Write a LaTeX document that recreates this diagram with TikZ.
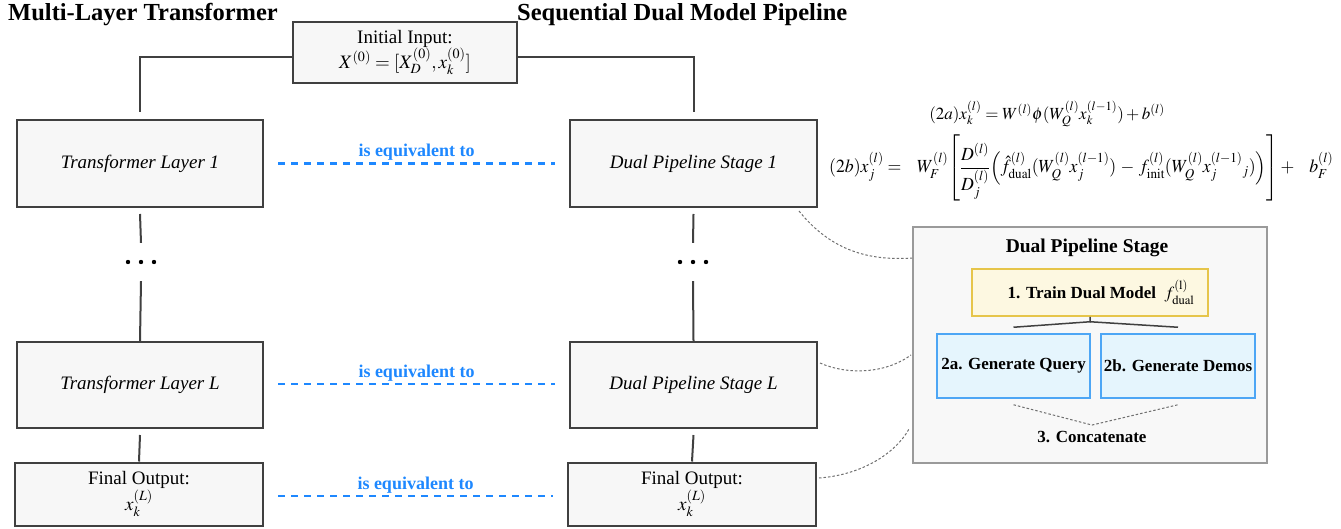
\documentclass[tikz,border=0pt]{standalone}
\usepackage{amsmath}
\usepackage{mathptmx}
\usepackage{fontspec}
\setmainfont{Liberation Serif}
\usetikzlibrary{calc}
\definecolor{boxfill}{HTML}{F7F7F7}
\definecolor{boxline}{HTML}{404040}
\definecolor{eqblue}{RGB}{30,136,255}
\definecolor{panelfill}{HTML}{F8F8F8}
\definecolor{panelline}{HTML}{9A9A9A}
\definecolor{yfill}{HTML}{FDF8E1}
\definecolor{yline}{HTML}{E6C54A}
\definecolor{bfill}{HTML}{E5F5FD}
\definecolor{bline}{HTML}{4DA6F5}
\definecolor{dotgray}{HTML}{707070}
\begin{document}
\begin{tikzpicture}[x=1pt,y=-1pt,
  mainbox/.style={draw=boxline, fill=boxfill, line width=2pt, inner sep=0pt, align=center},
  itext/.style={font=\fontsize{19}{22}\selectfont\itshape},
  rtext/.style={font=\fontsize{19}{24}\selectfont},
  conn/.style={draw=boxline, line width=2pt},
  eqline/.style={draw=eqblue, line width=2.2pt, dash pattern=on 7pt off 6pt},
  eqlabel/.style={text=eqblue, font=\fontsize{18}{20}\selectfont\bfseries, inner sep=0pt},
  title/.style={font=\fontsize{24.5}{28}\selectfont\bfseries, inner sep=0pt, anchor=west},
  softline/.style={draw=dotgray, line width=1pt, dash pattern=on 2.5pt off 2pt},
  panel/.style={draw=panelline, fill=panelfill, line width=2pt, inner sep=0pt},
  ptext/.style={font=\fontsize{17}{20}\selectfont\bfseries, inner sep=0pt},
  ptitle/.style={font=\fontsize{19.5}{22}\selectfont\bfseries, inner sep=0pt},
  ybox/.style={draw=yline, fill=yfill, line width=1.5pt, inner sep=0pt},
  bbox/.style={draw=bline, fill=bfill, line width=1.5pt, inner sep=0pt},
  treeline/.style={draw=boxline, line width=1.5pt},
  eqtext/.style={font=\fontsize{17}{20}\selectfont, inner sep=0pt},
  eqtextb/.style={font=\fontsize{18.5}{22}\selectfont, inner sep=0pt}
]
\useasboundingbox (0,0) rectangle (1341,529);

% titles
\node[title] (t1) at (8,15) {Multi-Layer Transformer};
\node[title] (t2) at (517,15) {Sequential Dual Model Pipeline};

% initial input
\node[mainbox, rtext, minimum width=224pt, minimum height=61pt] (init) at (405,52.5)
  {Initial Input:\\[-1pt] $X^{(0)}=[X_D^{(0)},x_k^{(0)}]$};

% left column
\node[mainbox, itext, minimum width=246pt, minimum height=87pt] (T1) at (140,163.5) {Transformer Layer 1};
\node[minimum width=40pt, minimum height=38pt, inner sep=0pt] (dL) at (141,262) {};
\node[mainbox, itext, minimum width=246pt, minimum height=86pt] (TL) at (140,385) {Transformer Layer L};
\node[mainbox, rtext, minimum width=248pt, minimum height=63pt] (FL) at (139,494)
  {Final Output:\\ $x_k^{(L)}$};

% right column
\node[mainbox, itext, minimum width=247pt, minimum height=87pt] (D1) at (693.5,163.5) {Dual Pipeline Stage 1};
\node[minimum width=40pt, minimum height=38pt, inner sep=0pt] (dR) at (693,262) {};
\node[mainbox, itext, minimum width=247pt, minimum height=86pt] (DL) at (693.5,385) {Dual Pipeline Stage L};
\node[mainbox, rtext, minimum width=248pt, minimum height=63pt] (FR) at (692,494)
  {Final Output:\\ $x_k^{(L)}$};

% dots
\foreach \d in {-13,0,13} {
  \fill ([xshift=\d pt]dL.center) circle (2.2pt);
  \fill ([xshift=\d pt]dR.center) circle (2.2pt);
}

% connectors
\draw[conn] ([yshift=-4.5pt]init.west) -| ([yshift=7pt]T1.north);
\draw[conn] ([yshift=-4.5pt]init.east) -| ([yshift=7pt]D1.north);
\draw[conn] ([yshift=-6pt]T1.south) -- (dL.north);
\draw[conn] (dL.south) -- (TL.north);
\draw[conn] ([yshift=-6pt]TL.south) -- (FL.north);
\draw[conn] ([yshift=-6pt]D1.south) -- (dR.north);
\draw[conn] (dR.south) -- (DL.north);
\draw[conn] ([yshift=-6pt]DL.south) -- (FR.north);

% equivalence lines
\draw[eqline] ([xshift=14pt]T1.east) -- node[eqlabel, yshift=11pt]{is equivalent to} ([xshift=-14pt]D1.west);
\draw[eqline] ([xshift=14pt,yshift=1pt]TL.east) -- node[eqlabel, yshift=11pt]{is equivalent to} ([xshift=-14pt,yshift=1pt]DL.west);
\draw[eqline] ([xshift=14pt,yshift=-2pt]FL.east) -- node[eqlabel, yshift=11pt]{is equivalent to} ([xshift=-14pt,yshift=-2pt]FR.west);

% equations
\node[eqtext] (e2a) at (1047,114) {$(2a)x_k^{(l)} = W^{(l)}\phi(W_Q^{(l)}x_k^{(l-1)})+b^{(l)}$};
\node[eqtextb, anchor=west] (e2b) at (829,168) {\resizebox{504pt}{\height}{$(2b)x_j^{(l)} =\;\;\; W_F^{(l)}\!\left[\dfrac{D^{(l)}}{D_j^{(l)}}\Big(\hat f_{\mathrm{dual}}^{(l)}(W_Q^{(l)}x_j^{(l-1)})\,-\,f_{\mathrm{init}}^{(l)}(W_Q^{(l)}x_j^{(l-1)}{}_j)\Big)\right]+\hspace{13pt}b_F^{(l)}$}};

% panel
\node[panel, minimum width=354pt, minimum height=236pt] (panel) at (1090,345) {};
\node[ptitle] (ptitle) at (1087,248) {Dual Pipeline Stage};
\node[ybox, ptext, minimum width=236pt, minimum height=47pt] (train) at (1090,292.5)
  {\hspace*{22pt}1. Train Dual Model \ {\mdseries$f^{(\mathrm{l})}_{\mathrm{dual}}$}};
\node[bbox, ptext, minimum width=153pt, minimum height=64pt] (gq) at (1013.5,366) {2a. Generate Query};
\node[bbox, ptext, minimum width=154pt, minimum height=64pt] (gd) at (1178,366) {2b. Generate Demos};
\node[ptext] (cat) at (1092,437) {3. Concatenate};

\coordinate (split) at ($(train.south)+(0,5)$);
\coordinate (ql) at ($(gq.north)+(0,-6)$);
\coordinate (dr) at ($(gd.north)+(0,-6)$);
\draw[treeline] (train.south) -- (split) -- (ql);
\draw[treeline] (split) -- (dr);

\coordinate (qb) at ($(gq.south)+(0,6)$);
\coordinate (db) at ($(gd.south)+(0,6)$);
\coordinate (cj) at ($(cat.north)+(0,-6)$);
\draw[softline] (qb) -- (cj) -- (db);

% zoom curves
\coordinate (c1s) at ($(D1.south east)+(-19,3)$);
\coordinate (c1e) at ($(panel.north west)+(0,32)$);
\draw[softline] (c1s) .. controls ($(c1s)+(32,40)$) and ($(c1e)+(-42,3)$) .. (c1e);
\coordinate (c2s) at ($(DL.east)+(2,-22)$);
\coordinate (c2e) at ($(panel.north west)+(-1,129)$);
\draw[softline] (c2s) .. controls ($(c2s)+(27,12)$) and ($(c2e)+(-26,19)$) .. (c2e);
\coordinate (c3s) at ($(FR.east)+(2,-16)$);
\coordinate (c3e) at ($(panel.north west)+(-3,203)$);
\draw[softline] (c3s) .. controls ($(c3s)+(42,-3)$) and ($(c3e)+(-14,25)$) .. (c3e);
\end{tikzpicture}
\end{document}
